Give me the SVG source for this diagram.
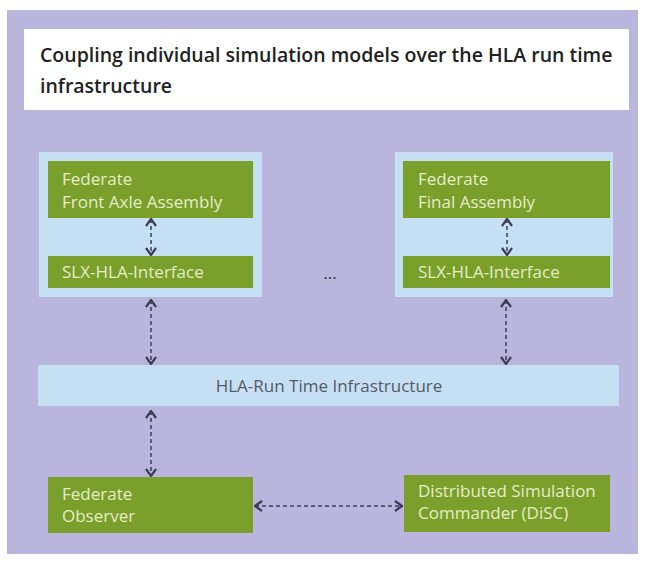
<svg xmlns="http://www.w3.org/2000/svg" width="646" height="564" viewBox="0 0 646 564">
<defs>
<style>
.bg{fill:#b9b5dc}
.lb{fill:#c6e0f3}
.gr{fill:#7a9f2b}
.gt{font-family:"Open Sans","Noto Sans",sans-serif;font-size:17px;fill:#e4edc6}
.tt{font-family:"Open Sans","Noto Sans",sans-serif;font-size:19.5px;font-weight:600;fill:#222}
.rt{font-family:"Open Sans","Noto Sans",sans-serif;font-size:17px;fill:#555a66}
.cn{stroke:#3c3c55;stroke-width:1.5;stroke-dasharray:4 3;fill:none;marker-start:url(#ah);marker-end:url(#ah)}
</style>
<marker id="ah" viewBox="0 0 10 12" refX="9" refY="6" markerWidth="10" markerHeight="12" markerUnits="userSpaceOnUse" orient="auto-start-reverse">
<path d="M2,1 L9,6 L2,11" fill="none" stroke="#3c3c55" stroke-width="2.2"/>
</marker>
</defs>
<rect x="0" y="0" width="646" height="564" fill="#ffffff"/>
<rect class="bg" x="7" y="10" width="631" height="544"/>
<g id="title">
<rect x="24" y="29" width="605" height="81" fill="#ffffff"/>
<text class="tt" x="40" y="62">Coupling individual simulation models over the HLA run time</text>
<text class="tt" x="40" y="93">infrastructure</text>
</g>
<g id="left-container"><rect class="lb" x="39" y="152" width="223" height="145"/></g>
<g id="right-container"><rect class="lb" x="395" y="152" width="218" height="145"/></g>
<g id="fed-front-axle">
<rect class="gr" x="48" y="161" width="205" height="57"/>
<text class="gt" x="62" y="185">Federate</text>
<text class="gt" x="62" y="208">Front Axle Assembly</text>
</g>
<g id="slx-left">
<rect class="gr" x="48" y="256" width="205" height="32"/>
<text class="gt" x="62" y="278">SLX-HLA-Interface</text>
</g>
<g id="fed-final">
<rect class="gr" x="403" y="161" width="207" height="57"/>
<text class="gt" x="418" y="185">Federate</text>
<text class="gt" x="418" y="208">Final Assembly</text>
</g>
<g id="slx-right">
<rect class="gr" x="403" y="256" width="207" height="32"/>
<text class="gt" x="418" y="278">SLX-HLA-Interface</text>
</g>
<g id="dots"><text class="rt" x="330" y="279" text-anchor="middle" style="fill:#333">...</text></g>
<g id="rti">
<rect class="lb" x="38" y="365" width="581" height="41"/>
<text class="rt" x="329" y="392" text-anchor="middle">HLA-Run Time Infrastructure</text>
</g>
<g id="fed-observer">
<rect class="gr" x="48" y="477" width="205" height="56"/>
<text class="gt" x="62" y="500">Federate</text>
<text class="gt" x="62" y="522">Observer</text>
</g>
<g id="disc">
<rect class="gr" x="404" y="475" width="206" height="57"/>
<text class="gt" x="418" y="497">Distributed Simulation</text>
<text class="gt" x="418" y="519">Commander (DiSC)</text>
</g>
<g id="connectors">
<line class="cn" x1="151" y1="219" x2="151" y2="255"/>
<line class="cn" x1="507" y1="219" x2="507" y2="255"/>
<line class="cn" x1="151" y1="300" x2="151" y2="364"/>
<line class="cn" x1="506" y1="300" x2="506" y2="364"/>
<line class="cn" x1="151" y1="411" x2="151" y2="476"/>
<line class="cn" x1="255" y1="506" x2="402" y2="506"/>
</g>
</svg>
